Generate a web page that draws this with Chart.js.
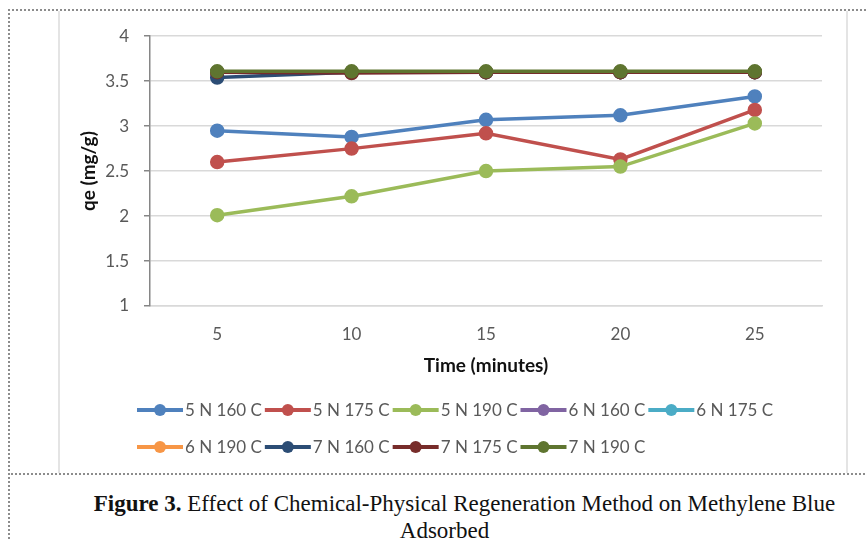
<!DOCTYPE html>
<html>
<head>
<meta charset="utf-8">
<script src="https://cdn.jsdelivr.net/npm/chart.js@4.4.0/dist/chart.umd.min.js"></script>
<style>
  html, body { margin: 0; padding: 0; background: #fff; }
  body { width: 867px; height: 541px; position: relative; overflow: hidden; }
  #frame { position: absolute; left: 8px; top: 9px; width: 900px; height: 600px; border-top: 2px dotted #8c8c8c; border-left: 2px dotted #8c8c8c; }
  #sep { position: absolute; left: 8px; top: 473px; width: 900px; border-top: 2px dotted #8c8c8c; }
  #box { position: absolute; left: 58px; top: 11px; width: 786px; height: 462px; border-left: 2px solid #e4e4e4; border-right: 2px solid #e4e4e4; }
  #wrap { position: absolute; left: 60px; top: 11px; width: 785px; height: 463px; }
  .cap { position: absolute; width: 867px; text-align: center; white-space: nowrap; font-family: "Liberation Serif", "Times New Roman", serif; font-size: 23px; line-height: 27px; color: #111; }
  #cap1 { left: 31px; top: 490px; }
  #cap2 { left: 11px; top: 517px; }
</style>
</head>
<body>
<div id="frame"></div>
<div id="box"></div>
<div id="sep"></div>
<div id="wrap"><canvas id="chart" width="785" height="463"></canvas></div>
<div class="cap" id="cap1"><b>Figure 3.</b> Effect of Chemical-Physical Regeneration Method on Methylene Blue</div>
<div class="cap" id="cap2">Adsorbed</div>
<script>
// time axis (minutes)
const minutes = ['5', '10', '15', '20', '25'];
const yTicks = [1, 1.5, 2, 2.5, 3, 3.5, 4];

// qe (mg/g) per condition
const n5_160 = [2.95, 2.88, 3.07, 3.12, 3.33];
const n5_175 = [2.60, 2.75, 2.92, 2.63, 3.18];
const n5_190 = [2.01, 2.22, 2.50, 2.55, 3.03];
const n6_160 = [3.60, 3.60, 3.60, 3.60, 3.60];
const n6_175 = [3.60, 3.60, 3.60, 3.60, 3.60];
const n6_190 = [3.60, 3.60, 3.60, 3.60, 3.60];
const n7_160 = [3.54, 3.60, 3.60, 3.60, 3.60];
const n7_175 = [3.60, 3.59, 3.60, 3.60, 3.60];
const n7_190 = [3.61, 3.61, 3.61, 3.61, 3.61];

const names = ['5 N 160 C', '5 N 175 C', '5 N 190 C', '6 N 160 C', '6 N 175 C',
               '6 N 190 C', '7 N 160 C', '7 N 175 C', '7 N 190 C'];
const colors = ['#4F81BD', '#C0504D', '#9BBB59', '#8064A2', '#4BACC6',
                '#F79646', '#2C4D75', '#772C2A', '#5F7530'];
const values = [n5_160, n5_175, n5_190, n6_160, n6_175, n6_190, n7_160, n7_175, n7_190];

const FONT = 'Lato, "Open Sans", sans-serif';

// excel style legend: line with a dot, rows left aligned
const excelLegend = {
  id: 'excelLegend',
  afterDraw(chart) {
    const ctx = chart.ctx;
    const x0 = 77, maxX = 775;
    let x = x0, y = chart.scales.x.bottom + 32;
    ctx.save();
    ctx.font = '17px ' + FONT;
    ctx.textBaseline = 'middle';
    chart.data.datasets.forEach(ds => {
      const w = 48 + ctx.measureText(ds.label).width;
      if (x > x0 && x + w > maxX) { x = x0; y += 37; }
      ctx.strokeStyle = ds.borderColor;
      ctx.lineWidth = 4;
      ctx.beginPath(); ctx.moveTo(x, y); ctx.lineTo(x + 46, y); ctx.stroke();
      ctx.fillStyle = ds.borderColor;
      ctx.beginPath(); ctx.arc(x + 23, y, 6, 0, Math.PI * 2); ctx.fill();
      ctx.fillStyle = '#595959';
      ctx.fillText(ds.label, x + 48, y + 1);
      x += w + 3;
    });
    ctx.restore();
  }
};

const datasets = names.map((name, i) => ({
  label: name,
  data: values[i],
  borderColor: colors[i],
  backgroundColor: colors[i],
  pointBackgroundColor: colors[i],
  pointBorderColor: colors[i],
  borderWidth: 3.5,
  pointRadius: 5.5,
  tension: 0,
  order: names.length - i
}));

new Chart(document.getElementById('chart'), {
  type: 'line',
  data: { labels: minutes, datasets },
  plugins: [excelLegend],
  options: {
    responsive: false,
    animation: false,
    devicePixelRatio: 1,
    layout: { padding: { left: 13, right: 23, top: 24, bottom: 96 } },
    plugins: { legend: { display: false }, tooltip: { enabled: false } },
    scales: {
      x: {
        offset: true,
        afterFit: s => { s.height = 72; },
        grid: { display: false, drawTicks: false },
        border: { color: '#D9D9D9', width: 1.5 },
        ticks: { color: '#595959', font: { family: FONT, size: 17 }, padding: 18 },
        title: { display: true, text: 'Time (minutes)', color: '#111', font: { family: FONT, size: 19, weight: 'bold' }, padding: { top: 0, bottom: 1 } }
      },
      y: {
        min: 1,
        max: 4,
        afterBuildTicks: s => { s.ticks = yTicks.map(v => ({ value: v })); },
        afterFit: s => { s.width = 77; },
        grid: { color: '#D9D9D9', lineWidth: 1.5, tickColor: '#868686', tickLength: 6 },
        border: { color: '#868686', width: 1.5 },
        ticks: { color: '#595959', font: { family: FONT, size: 17 }, padding: 15, callback: v => String(v) },
        title: { display: true, text: 'qe (mg/g)', color: '#111', font: { family: FONT, size: 19, weight: 'bold' }, padding: { top: 4, bottom: 4 } }
      }
    }
  }
});
</script>
</body>
</html>
